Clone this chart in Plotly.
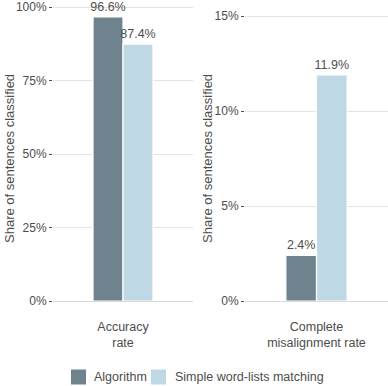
import plotly.graph_objects as go
from plotly.subplots import make_subplots

# Panel categories and shares for each method
panels = ["Accuracy<br>rate", "Complete<br>misalignment rate"]
methods = ["Algorithm", "Simple word-lists matching"]
algorithm = [0.966, 0.024]
wordlists = [0.874, 0.119]
colors = ["#6e838e", "#bfd8e5"]
y_title = "Share of sentences classified"

y_tickvals = [
    [0, 0.25, 0.5, 0.75, 1.0],
    [0, 0.05, 0.10, 0.15],
]
y_ranges = [[0, 1.0068], [0, 0.1558]]

W, H = 388, 386
TEXT = "#4d4d4d"

fig = make_subplots(rows=1, cols=2, horizontal_spacing=0.1)

series = [algorithm, wordlists]
for p, cat in enumerate(panels):
    for m, name in enumerate(methods):
        v = series[m][p]
        fig.add_trace(
            go.Bar(
                x=[cat],
                y=[v],
                name=name,
                showlegend=False,
                marker=dict(color=colors[m], line=dict(color="white", width=1.2)),
                text=[f"{v*100:.1f}%"],
                textposition="outside",
                textangle=0,
                constraintext="none",
                cliponaxis=False,
                textfont=dict(size=12.5, color=TEXT),
                hoverinfo="skip",
            ),
            row=1,
            col=p + 1,
        )

x_domains = [[53 / W, 193 / W], [245 / W, 1.0]]
y_domain = [(H - 301) / H, (H - 5) / H]

for i in range(2):
    xa = "xaxis" if i == 0 else "xaxis2"
    ya = "yaxis" if i == 0 else "yaxis2"
    fig.update_layout(
        {
            xa: dict(
                domain=x_domains[i],
                range=[-0.6, 0.6],
                automargin=False,
                showgrid=False,
                showline=False,
                zeroline=False,
                ticks="",
                tickfont=dict(size=12.5, color=TEXT),
                ticklabelstandoff=16,
                fixedrange=True,
            ),
            ya: dict(
                domain=y_domain,
                range=y_ranges[i],
                automargin=False,
                tickvals=y_tickvals[i],
                tickformat=".0%",
                showgrid=True,
                gridcolor="#e3e3e3",
                gridwidth=1,
                zeroline=True,
                zerolinecolor="#d9d9d9",
                zerolinewidth=1,
                showline=False,
                ticks="outside",
                ticklen=3,
                tickcolor=TEXT,
                tickfont=dict(size=12, color=TEXT),
                fixedrange=True,
            ),
        }
    )

# Rotated y-axis titles, one per panel
for x_px in (9, 207):
    fig.add_annotation(
        text=y_title,
        xref="paper", yref="paper",
        x=x_px / W, y=(H - 159) / H,
        xanchor="center", yanchor="middle",
        textangle=-90,
        showarrow=False,
        font=dict(size=13, color=TEXT),
    )

# Legend drawn as square swatches with labels along the bottom
legend_items = [(71, 92), (151, 173)]
cy = 377
for (sx, tx), name, col in zip(legend_items, methods, colors):
    fig.add_shape(
        type="rect",
        xref="paper", yref="paper",
        x0=sx / W, x1=(sx + 15) / W,
        y0=(H - cy - 7.5) / H, y1=(H - cy + 7.5) / H,
        fillcolor=col,
        line=dict(width=0),
    )
    fig.add_annotation(
        text=name,
        xref="paper", yref="paper",
        x=tx / W, y=(H - cy) / H,
        xanchor="left", yanchor="middle",
        showarrow=False,
        font=dict(size=12.5, color=TEXT),
    )

fig.update_layout(
    width=W,
    height=H,
    margin=dict(l=0, r=0, t=0, b=0, autoexpand=False),
    paper_bgcolor="white",
    plot_bgcolor="white",
    barmode="group",
    bargap=0.486,
    bargroupgap=0.0,
    font=dict(family="Liberation Sans, Arial, sans-serif", color=TEXT),
    showlegend=False,
)

fig.write_html("out.html")
